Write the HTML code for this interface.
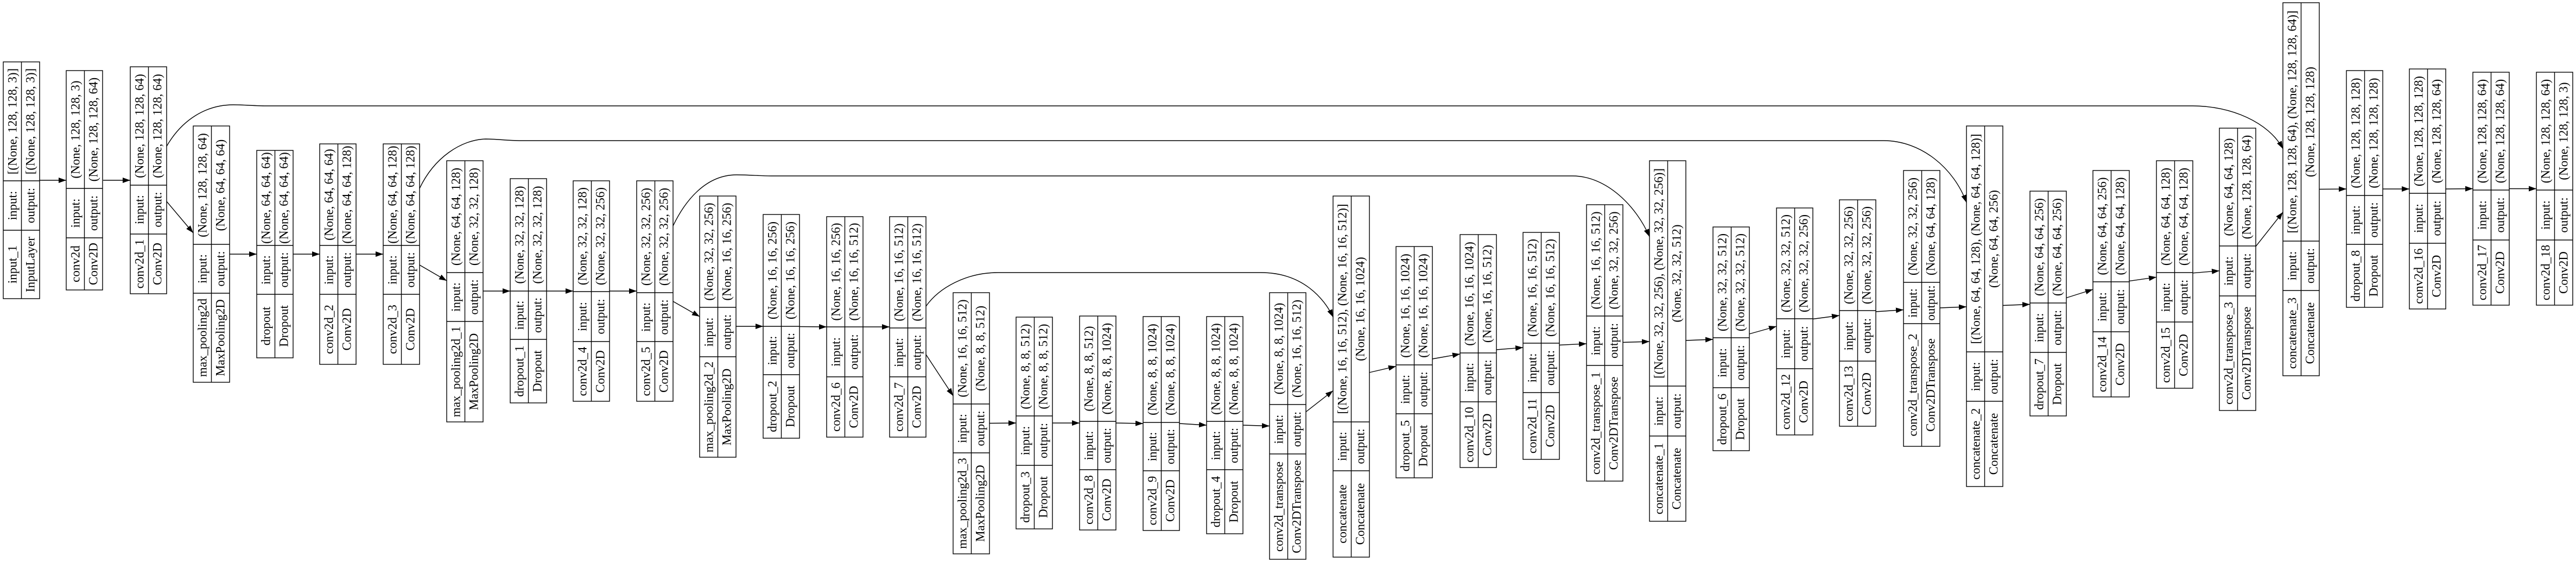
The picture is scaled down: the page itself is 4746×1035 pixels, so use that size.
<!DOCTYPE html>
<html><head><meta charset="utf-8">
<style>
html,body{margin:0;padding:0;background:#fff;}
svg{display:block;}
.n rect{fill:#fff;stroke:#000;stroke-width:1.4;}
.n path{fill:none;stroke:#000;stroke-width:1.4;}
text{font-family:"Liberation Serif",serif;font-size:23px;fill:#000;text-anchor:middle;dominant-baseline:central;}
.e{fill:none;stroke:#000;stroke-width:1.4;}
</style></head><body>
<svg width="4746" height="1035" viewBox="0 0 4746 1035" xmlns="http://www.w3.org/2000/svg">
<defs><marker id="a" markerWidth="14" markerHeight="10" refX="14" refY="5" orient="auto" markerUnits="userSpaceOnUse"><path d="M0,0 L14,5 L0,10z" fill="#000"/></marker></defs>

<!-- skip edges -->
<path class="e" marker-end="url(#a)" d="M306,271 C335,220 380,193 430,193 C450,193 470,195 490,195 L4040,195 C4110,195 4180,225 4206,274"/>
<path class="e" marker-end="url(#a)" d="M773,347 C800,290 850,257 895,256 C915,256 935,259 960,259 L3470,259 C3540,259 3600,310 3623,373"/>
<path class="e" marker-end="url(#a)" d="M1240,416 C1262,370 1300,322 1357,322 C1380,322 1400,324 1420,324 L2897,324 C2960,324 3015,380 3039,436"/>
<path class="e" marker-end="url(#a)" d="M1706,564 C1730,530 1780,502 1839,502 L2323,502 C2400,502 2440,550 2456,584"/>

<!-- chain edges -->
<g class="e" marker-end="url(#a)">
<line class="e" marker-end="url(#a)" x1="73" y1="332" x2="122" y2="332"/>
<line class="e" marker-end="url(#a)" x1="190" y1="332" x2="240" y2="332"/>
<line class="e" marker-end="url(#a)" x1="307" y1="371" x2="356" y2="429"/>
<line class="e" marker-end="url(#a)" x1="423" y1="468" x2="473" y2="468"/>
<line class="e" marker-end="url(#a)" x1="540" y1="468" x2="589" y2="468"/>
<line class="e" marker-end="url(#a)" x1="656" y1="468" x2="706" y2="468"/>
<line class="e" marker-end="url(#a)" x1="773" y1="488" x2="823" y2="517"/>
<line class="e" marker-end="url(#a)" x1="890" y1="536" x2="940" y2="536"/>
<line class="e" marker-end="url(#a)" x1="1007" y1="536" x2="1056" y2="536"/>
<line class="e" marker-end="url(#a)" x1="1123" y1="536" x2="1173" y2="536"/>
<line class="e" marker-end="url(#a)" x1="1240" y1="555" x2="1289" y2="583"/>
<line class="e" marker-end="url(#a)" x1="1356" y1="601" x2="1406" y2="601"/>
<line class="e" marker-end="url(#a)" x1="1473" y1="601.5" x2="1523" y2="602"/>
<line class="e" marker-end="url(#a)" x1="1590" y1="602" x2="1639" y2="602"/>
<line class="e" marker-end="url(#a)" x1="1706" y1="653" x2="1756" y2="729"/>
<line class="e" marker-end="url(#a)" x1="1823" y1="779.5" x2="1872" y2="779"/>
<line class="e" marker-end="url(#a)" x1="1939" y1="779" x2="1989" y2="779"/>
<line class="e" marker-end="url(#a)" x1="2056" y1="779" x2="2106" y2="780"/>
<line class="e" marker-end="url(#a)" x1="2173" y1="780" x2="2223" y2="783"/>
<line class="e" marker-end="url(#a)" x1="2290" y1="783" x2="2339" y2="784.5"/>
<line class="e" marker-end="url(#a)" x1="2406" y1="758.5" x2="2456" y2="719.5"/>
<line class="e" marker-end="url(#a)" x1="2523" y1="686" x2="2572" y2="674.6"/>
<line class="e" marker-end="url(#a)" x1="2639" y1="661" x2="2690" y2="652"/>
<line class="e" marker-end="url(#a)" x1="2757" y1="644" x2="2806" y2="640"/>
<line class="e" marker-end="url(#a)" x1="2873" y1="635.5" x2="2923" y2="633"/>
<line class="e" marker-end="url(#a)" x1="2990" y1="630.5" x2="3039" y2="629"/>
<line class="e" marker-end="url(#a)" x1="3106" y1="627" x2="3156" y2="625"/>
<line class="e" marker-end="url(#a)" x1="3223" y1="615" x2="3273" y2="601"/>
<line class="e" marker-end="url(#a)" x1="3340" y1="587.5" x2="3389" y2="581"/>
<line class="e" marker-end="url(#a)" x1="3456" y1="574" x2="3507" y2="570.5"/>
<line class="e" marker-end="url(#a)" x1="3574" y1="567" x2="3623" y2="565"/>
<line class="e" marker-end="url(#a)" x1="3690" y1="562.5" x2="3740" y2="560.5"/>
<line class="e" marker-end="url(#a)" x1="3807" y1="548.5" x2="3856" y2="533"/>
<line class="e" marker-end="url(#a)" x1="3923" y1="517.6" x2="3973" y2="510.4"/>
<line class="e" marker-end="url(#a)" x1="4040" y1="502.8" x2="4089" y2="498.7"/>
<line class="e" marker-end="url(#a)" x1="4156" y1="453.8" x2="4206" y2="390.7"/>
<line class="e" marker-end="url(#a)" x1="4273" y1="348.5" x2="4323" y2="348"/>
<line class="e" marker-end="url(#a)" x1="4390" y1="348" x2="4439" y2="348"/>
<line class="e" marker-end="url(#a)" x1="4506" y1="348" x2="4556" y2="347.5"/>
<line class="e" marker-end="url(#a)" x1="4623" y1="347.5" x2="4673" y2="347.5"/>
</g>

<!-- nodes -->
<g class="n" transform="translate(6,0)"><rect x="0" y="114" width="67" height="436"/><path d="M33.5,114V550M0,333H67M0,424H67"/>
<text transform="translate(17,223.5) rotate(-90)">[(None, 128, 128, 3)]</text><text transform="translate(50,223.5) rotate(-90)">[(None, 128, 128, 3)]</text>
<text transform="translate(17,378.5) rotate(-90)">input:</text><text transform="translate(50,378.5) rotate(-90)">output:</text>
<text transform="translate(17,487) rotate(-90)">input_1</text><text transform="translate(50,487) rotate(-90)">InputLayer</text></g>

<g class="n" transform="translate(122,0)"><rect x="0" y="130" width="67" height="404"/><path d="M33.5,130V534M0,347H67M0,438H67"/>
<text transform="translate(17,238.5) rotate(-90)">(None, 128, 128, 3)</text><text transform="translate(50,238.5) rotate(-90)">(None, 128, 128, 64)</text>
<text transform="translate(17,392.5) rotate(-90)">input:</text><text transform="translate(50,392.5) rotate(-90)">output:</text>
<text transform="translate(17,486) rotate(-90)">conv2d</text><text transform="translate(50,486) rotate(-90)">Conv2D</text></g>

<g class="n" transform="translate(240,0)"><rect x="0" y="123" width="67" height="418"/><path d="M33.5,123V541M0,341H67M0,431H67"/>
<text transform="translate(17,232) rotate(-90)">(None, 128, 128, 64)</text><text transform="translate(50,232) rotate(-90)">(None, 128, 128, 64)</text>
<text transform="translate(17,386) rotate(-90)">input:</text><text transform="translate(50,386) rotate(-90)">output:</text>
<text transform="translate(17,486) rotate(-90)">conv2d_1</text><text transform="translate(50,486) rotate(-90)">Conv2D</text></g>

<g class="n" transform="translate(356,0)"><rect x="0" y="232" width="67" height="472"/><path d="M33.5,232V704M0,450H67M0,540H67"/>
<text transform="translate(17,341) rotate(-90)">(None, 128, 128, 64)</text><text transform="translate(50,341) rotate(-90)">(None, 64, 64, 64)</text>
<text transform="translate(17,495) rotate(-90)">input:</text><text transform="translate(50,495) rotate(-90)">output:</text>
<text transform="translate(17,622) rotate(-90)">max_pooling2d</text><text transform="translate(50,622) rotate(-90)">MaxPooling2D</text></g>

<g class="n" transform="translate(473,0)"><rect x="0" y="277" width="67" height="382"/><path d="M33.5,277V659M0,452H67M0,542H67"/>
<text transform="translate(17,364.5) rotate(-90)">(None, 64, 64, 64)</text><text transform="translate(50,364.5) rotate(-90)">(None, 64, 64, 64)</text>
<text transform="translate(17,497) rotate(-90)">input:</text><text transform="translate(50,497) rotate(-90)">output:</text>
<text transform="translate(17,600.5) rotate(-90)">dropout</text><text transform="translate(50,600.5) rotate(-90)">Dropout</text></g>

<g class="n" transform="translate(589,0)"><rect x="0" y="265" width="67" height="406"/><path d="M33.5,265V671M0,452H67M0,542H67"/>
<text transform="translate(17,358.5) rotate(-90)">(None, 64, 64, 64)</text><text transform="translate(50,358.5) rotate(-90)">(None, 64, 64, 128)</text>
<text transform="translate(17,497) rotate(-90)">input:</text><text transform="translate(50,497) rotate(-90)">output:</text>
<text transform="translate(17,606.5) rotate(-90)">conv2d_2</text><text transform="translate(50,606.5) rotate(-90)">Conv2D</text></g>

<g class="n" transform="translate(706,0)"><rect x="0" y="265" width="67" height="406"/><path d="M33.5,265V671M0,452H67M0,542H67"/>
<text transform="translate(17,358.5) rotate(-90)">(None, 64, 64, 128)</text><text transform="translate(50,358.5) rotate(-90)">(None, 64, 64, 128)</text>
<text transform="translate(17,497) rotate(-90)">input:</text><text transform="translate(50,497) rotate(-90)">output:</text>
<text transform="translate(17,606.5) rotate(-90)">conv2d_3</text><text transform="translate(50,606.5) rotate(-90)">Conv2D</text></g>

<g class="n" transform="translate(823,0)"><rect x="0" y="296" width="67" height="481"/><path d="M33.5,296V777M0,502H67M0,592H67"/>
<text transform="translate(17,399) rotate(-90)">(None, 64, 64, 128)</text><text transform="translate(50,399) rotate(-90)">(None, 32, 32, 128)</text>
<text transform="translate(17,547) rotate(-90)">input:</text><text transform="translate(50,547) rotate(-90)">output:</text>
<text transform="translate(17,684.5) rotate(-90)">max_pooling2d_1</text><text transform="translate(50,684.5) rotate(-90)">MaxPooling2D</text></g>

<g class="n" transform="translate(940,0)"><rect x="0" y="329" width="67" height="413"/><path d="M33.5,329V742M0,536H67M0,625H67"/>
<text transform="translate(17,432.5) rotate(-90)">(None, 32, 32, 128)</text><text transform="translate(50,432.5) rotate(-90)">(None, 32, 32, 128)</text>
<text transform="translate(17,580.5) rotate(-90)">input:</text><text transform="translate(50,580.5) rotate(-90)">output:</text>
<text transform="translate(17,683.5) rotate(-90)">dropout_1</text><text transform="translate(50,683.5) rotate(-90)">Dropout</text></g>

<g class="n" transform="translate(1056,0)"><rect x="0" y="333" width="67" height="406"/><path d="M33.5,333V739M0,537H67M0,629H67"/>
<text transform="translate(17,435) rotate(-90)">(None, 32, 32, 128)</text><text transform="translate(50,435) rotate(-90)">(None, 32, 32, 256)</text>
<text transform="translate(17,583) rotate(-90)">input:</text><text transform="translate(50,583) rotate(-90)">output:</text>
<text transform="translate(17,684) rotate(-90)">conv2d_4</text><text transform="translate(50,684) rotate(-90)">Conv2D</text></g>

<g class="n" transform="translate(1173,0)"><rect x="0" y="333" width="67" height="406"/><path d="M33.5,333V739M0,539H67M0,629H67"/>
<text transform="translate(17,436) rotate(-90)">(None, 32, 32, 256)</text><text transform="translate(50,436) rotate(-90)">(None, 32, 32, 256)</text>
<text transform="translate(17,584) rotate(-90)">input:</text><text transform="translate(50,584) rotate(-90)">output:</text>
<text transform="translate(17,684) rotate(-90)">conv2d_5</text><text transform="translate(50,684) rotate(-90)">Conv2D</text></g>

<g class="n" transform="translate(1289,0)"><rect x="0" y="361" width="67" height="481"/><path d="M33.5,361V842M0,566H67M0,657H67"/>
<text transform="translate(17,463.5) rotate(-90)">(None, 32, 32, 256)</text><text transform="translate(50,463.5) rotate(-90)">(None, 16, 16, 256)</text>
<text transform="translate(17,611.5) rotate(-90)">input:</text><text transform="translate(50,611.5) rotate(-90)">output:</text>
<text transform="translate(17,749.5) rotate(-90)">max_pooling2d_2</text><text transform="translate(50,749.5) rotate(-90)">MaxPooling2D</text></g>

<g class="n" transform="translate(1406,0)"><rect x="0" y="395" width="67" height="412"/><path d="M33.5,395V807M0,601H67M0,690H67"/>
<text transform="translate(17,498) rotate(-90)">(None, 16, 16, 256)</text><text transform="translate(50,498) rotate(-90)">(None, 16, 16, 256)</text>
<text transform="translate(17,645.5) rotate(-90)">input:</text><text transform="translate(50,645.5) rotate(-90)">output:</text>
<text transform="translate(17,748.5) rotate(-90)">dropout_2</text><text transform="translate(50,748.5) rotate(-90)">Dropout</text></g>

<g class="n" transform="translate(1523,0)"><rect x="0" y="399" width="67" height="406"/><path d="M33.5,399V805M0,602H67M0,694H67"/>
<text transform="translate(17,500.5) rotate(-90)">(None, 16, 16, 256)</text><text transform="translate(50,500.5) rotate(-90)">(None, 16, 16, 512)</text>
<text transform="translate(17,648) rotate(-90)">input:</text><text transform="translate(50,648) rotate(-90)">output:</text>
<text transform="translate(17,749.5) rotate(-90)">conv2d_6</text><text transform="translate(50,749.5) rotate(-90)">Conv2D</text></g>

<g class="n" transform="translate(1639,0)"><rect x="0" y="399" width="67" height="406"/><path d="M33.5,399V805M0,604H67M0,694H67"/>
<text transform="translate(17,501.5) rotate(-90)">(None, 16, 16, 512)</text><text transform="translate(50,501.5) rotate(-90)">(None, 16, 16, 512)</text>
<text transform="translate(17,649) rotate(-90)">input:</text><text transform="translate(50,649) rotate(-90)">output:</text>
<text transform="translate(17,749.5) rotate(-90)">conv2d_7</text><text transform="translate(50,749.5) rotate(-90)">Conv2D</text></g>

<g class="n" transform="translate(1756,0)"><rect x="0" y="539" width="67" height="481"/><path d="M33.5,539V1020M0,744H67M0,834H67"/>
<text transform="translate(17,641.5) rotate(-90)">(None, 16, 16, 512)</text><text transform="translate(50,641.5) rotate(-90)">(None, 8, 8, 512)</text>
<text transform="translate(17,789) rotate(-90)">input:</text><text transform="translate(50,789) rotate(-90)">output:</text>
<text transform="translate(17,927) rotate(-90)">max_pooling2d_3</text><text transform="translate(50,927) rotate(-90)">MaxPooling2D</text></g>

<g class="n" transform="translate(1872,0)"><rect x="0" y="584" width="67" height="390"/><path d="M33.5,584V974M0,766H67M0,857H67"/>
<text transform="translate(17,675) rotate(-90)">(None, 8, 8, 512)</text><text transform="translate(50,675) rotate(-90)">(None, 8, 8, 512)</text>
<text transform="translate(17,811.5) rotate(-90)">input:</text><text transform="translate(50,811.5) rotate(-90)">output:</text>
<text transform="translate(17,915.5) rotate(-90)">dropout_3</text><text transform="translate(50,915.5) rotate(-90)">Dropout</text></g>

<g class="n" transform="translate(1989,0)"><rect x="0" y="582" width="67" height="394"/><path d="M33.5,582V976M0,776H67M0,865H67"/>
<text transform="translate(17,679) rotate(-90)">(None, 8, 8, 512)</text><text transform="translate(50,679) rotate(-90)">(None, 8, 8, 1024)</text>
<text transform="translate(17,820.5) rotate(-90)">input:</text><text transform="translate(50,820.5) rotate(-90)">output:</text>
<text transform="translate(17,920.5) rotate(-90)">conv2d_8</text><text transform="translate(50,920.5) rotate(-90)">Conv2D</text></g>

<g class="n" transform="translate(2106,0)"><rect x="0" y="583" width="67" height="394"/><path d="M33.5,583V977M0,778H67M0,867H67"/>
<text transform="translate(17,680.5) rotate(-90)">(None, 8, 8, 1024)</text><text transform="translate(50,680.5) rotate(-90)">(None, 8, 8, 1024)</text>
<text transform="translate(17,822.5) rotate(-90)">input:</text><text transform="translate(50,822.5) rotate(-90)">output:</text>
<text transform="translate(17,922) rotate(-90)">conv2d_9</text><text transform="translate(50,922) rotate(-90)">Conv2D</text></g>

<g class="n" transform="translate(2223,0)"><rect x="0" y="583" width="67" height="400"/><path d="M33.5,583V983M0,776H67M0,865H67"/>
<text transform="translate(17,679.5) rotate(-90)">(None, 8, 8, 1024)</text><text transform="translate(50,679.5) rotate(-90)">(None, 8, 8, 1024)</text>
<text transform="translate(17,820.5) rotate(-90)">input:</text><text transform="translate(50,820.5) rotate(-90)">output:</text>
<text transform="translate(17,924) rotate(-90)">dropout_4</text><text transform="translate(50,924) rotate(-90)">Dropout</text></g>

<g class="n" transform="translate(2339,0)"><rect x="0" y="539" width="67" height="491"/><path d="M33.5,539V1030M0,745H67M0,836H67"/>
<text transform="translate(17,642) rotate(-90)">(None, 8, 8, 1024)</text><text transform="translate(50,642) rotate(-90)">(None, 16, 16, 512)</text>
<text transform="translate(17,790.5) rotate(-90)">input:</text><text transform="translate(50,790.5) rotate(-90)">output:</text>
<text transform="translate(17,933) rotate(-90)">conv2d_transpose</text><text transform="translate(50,933) rotate(-90)">Conv2DTranspose</text></g>

<g class="n" transform="translate(2456,0)"><rect x="0" y="361" width="67" height="665"/><path d="M33.5,361V1026M0,777H67M0,867H67"/>
<text transform="translate(17,569) rotate(-90)">[(None, 16, 16, 512), (None, 16, 16, 512)]</text><text transform="translate(50,569) rotate(-90)">(None, 16, 16, 1024)</text>
<text transform="translate(17,822) rotate(-90)">input:</text><text transform="translate(50,822) rotate(-90)">output:</text>
<text transform="translate(17,946.5) rotate(-90)">concatenate</text><text transform="translate(50,946.5) rotate(-90)">Concatenate</text></g>

<g class="n" transform="translate(2572,0)"><rect x="0" y="454" width="67" height="426"/><path d="M33.5,454V880M0,672H67M0,762H67"/>
<text transform="translate(17,563) rotate(-90)">(None, 16, 16, 1024)</text><text transform="translate(50,563) rotate(-90)">(None, 16, 16, 1024)</text>
<text transform="translate(17,717) rotate(-90)">input:</text><text transform="translate(50,717) rotate(-90)">output:</text>
<text transform="translate(17,821) rotate(-90)">dropout_5</text><text transform="translate(50,821) rotate(-90)">Dropout</text></g>

<g class="n" transform="translate(2690,0)"><rect x="0" y="432" width="67" height="429"/><path d="M33.5,432V861M0,650H67M0,740H67"/>
<text transform="translate(17,541) rotate(-90)">(None, 16, 16, 1024)</text><text transform="translate(50,541) rotate(-90)">(None, 16, 16, 512)</text>
<text transform="translate(17,695) rotate(-90)">input:</text><text transform="translate(50,695) rotate(-90)">output:</text>
<text transform="translate(17,800.5) rotate(-90)">conv2d_10</text><text transform="translate(50,800.5) rotate(-90)">Conv2D</text></g>

<g class="n" transform="translate(2806,0)"><rect x="0" y="428" width="67" height="418"/><path d="M33.5,428V846M0,632H67M0,723H67"/>
<text transform="translate(17,530) rotate(-90)">(None, 16, 16, 512)</text><text transform="translate(50,530) rotate(-90)">(None, 16, 16, 512)</text>
<text transform="translate(17,677.5) rotate(-90)">input:</text><text transform="translate(50,677.5) rotate(-90)">output:</text>
<text transform="translate(17,784.5) rotate(-90)">conv2d_11</text><text transform="translate(50,784.5) rotate(-90)">Conv2D</text></g>

<g class="n" transform="translate(2923,0)"><rect x="0" y="377" width="67" height="509"/><path d="M33.5,377V886M0,582H67M0,673H67"/>
<text transform="translate(17,479.5) rotate(-90)">(None, 16, 16, 512)</text><text transform="translate(50,479.5) rotate(-90)">(None, 32, 32, 256)</text>
<text transform="translate(17,627.5) rotate(-90)">input:</text><text transform="translate(50,627.5) rotate(-90)">output:</text>
<text transform="translate(17,779.5) rotate(-90)">conv2d_transpose_1</text><text transform="translate(50,779.5) rotate(-90)">Conv2DTranspose</text></g>

<g class="n" transform="translate(3039,0)"><rect x="0" y="296" width="67" height="664"/><path d="M33.5,296V960M0,711H67M0,803H67"/>
<text transform="translate(17,503.5) rotate(-90)">[(None, 32, 32, 256), (None, 32, 32, 256)]</text><text transform="translate(50,503.5) rotate(-90)">(None, 32, 32, 512)</text>
<text transform="translate(17,757) rotate(-90)">input:</text><text transform="translate(50,757) rotate(-90)">output:</text>
<text transform="translate(17,881.5) rotate(-90)">concatenate_1</text><text transform="translate(50,881.5) rotate(-90)">Concatenate</text></g>

<g class="n" transform="translate(3156,0)"><rect x="0" y="418" width="67" height="412"/><path d="M33.5,418V830M0,622H67M0,714H67"/>
<text transform="translate(17,520) rotate(-90)">(None, 32, 32, 512)</text><text transform="translate(50,520) rotate(-90)">(None, 32, 32, 512)</text>
<text transform="translate(17,668) rotate(-90)">input:</text><text transform="translate(50,668) rotate(-90)">output:</text>
<text transform="translate(17,772) rotate(-90)">dropout_6</text><text transform="translate(50,772) rotate(-90)">Dropout</text></g>

<g class="n" transform="translate(3273,0)"><rect x="0" y="383" width="67" height="418"/><path d="M33.5,383V801M0,587H67M0,679H67"/>
<text transform="translate(17,485) rotate(-90)">(None, 32, 32, 512)</text><text transform="translate(50,485) rotate(-90)">(None, 32, 32, 256)</text>
<text transform="translate(17,633) rotate(-90)">input:</text><text transform="translate(50,633) rotate(-90)">output:</text>
<text transform="translate(17,740) rotate(-90)">conv2d_12</text><text transform="translate(50,740) rotate(-90)">Conv2D</text></g>

<g class="n" transform="translate(3389,0)"><rect x="0" y="368" width="67" height="417"/><path d="M33.5,368V785M0,572H67M0,665H67"/>
<text transform="translate(17,470) rotate(-90)">(None, 32, 32, 256)</text><text transform="translate(50,470) rotate(-90)">(None, 32, 32, 256)</text>
<text transform="translate(17,618.5) rotate(-90)">input:</text><text transform="translate(50,618.5) rotate(-90)">output:</text>
<text transform="translate(17,725) rotate(-90)">conv2d_13</text><text transform="translate(50,725) rotate(-90)">Conv2D</text></g>

<g class="n" transform="translate(3507,0)"><rect x="0" y="314" width="67" height="508"/><path d="M33.5,314V822M0,520H67M0,596H67"/>
<text transform="translate(17,417) rotate(-90)">(None, 32, 32, 256)</text><text transform="translate(50,417) rotate(-90)">(None, 64, 64, 128)</text>
<text transform="translate(17,558) rotate(-90)">input:</text><text transform="translate(50,558) rotate(-90)">output:</text>
<text transform="translate(17,709) rotate(-90)">conv2d_transpose_2</text><text transform="translate(50,709) rotate(-90)">Conv2DTranspose</text></g>

<g class="n" transform="translate(3623,0)"><rect x="0" y="232" width="67" height="664"/><path d="M33.5,232V896M0,648H67M0,739H67"/>
<text transform="translate(17,440) rotate(-90)">[(None, 64, 64, 128), (None, 64, 64, 128)]</text><text transform="translate(50,440) rotate(-90)">(None, 64, 64, 256)</text>
<text transform="translate(17,693.5) rotate(-90)">input:</text><text transform="translate(50,693.5) rotate(-90)">output:</text>
<text transform="translate(17,817.5) rotate(-90)">concatenate_2</text><text transform="translate(50,817.5) rotate(-90)">Concatenate</text></g>

<g class="n" transform="translate(3740,0)"><rect x="0" y="352" width="67" height="414"/><path d="M33.5,352V766M0,558H67M0,649H67"/>
<text transform="translate(17,455) rotate(-90)">(None, 64, 64, 256)</text><text transform="translate(50,455) rotate(-90)">(None, 64, 64, 256)</text>
<text transform="translate(17,603.5) rotate(-90)">input:</text><text transform="translate(50,603.5) rotate(-90)">output:</text>
<text transform="translate(17,707.5) rotate(-90)">dropout_7</text><text transform="translate(50,707.5) rotate(-90)">Dropout</text></g>

<g class="n" transform="translate(3856,0)"><rect x="0" y="314" width="67" height="417"/><path d="M33.5,314V731M0,519H67M0,611H67"/>
<text transform="translate(17,416.5) rotate(-90)">(None, 64, 64, 256)</text><text transform="translate(50,416.5) rotate(-90)">(None, 64, 64, 128)</text>
<text transform="translate(17,565) rotate(-90)">input:</text><text transform="translate(50,565) rotate(-90)">output:</text>
<text transform="translate(17,671) rotate(-90)">conv2d_14</text><text transform="translate(50,671) rotate(-90)">Conv2D</text></g>

<g class="n" transform="translate(3973,0)"><rect x="0" y="296" width="67" height="419"/><path d="M33.5,296V715M0,502H67M0,593H67"/>
<text transform="translate(17,399) rotate(-90)">(None, 64, 64, 128)</text><text transform="translate(50,399) rotate(-90)">(None, 64, 64, 128)</text>
<text transform="translate(17,547.5) rotate(-90)">input:</text><text transform="translate(50,547.5) rotate(-90)">output:</text>
<text transform="translate(17,654) rotate(-90)">conv2d_15</text><text transform="translate(50,654) rotate(-90)">Conv2D</text></g>

<g class="n" transform="translate(4089,0)"><rect x="0" y="236" width="67" height="520"/><path d="M33.5,236V756M0,453H67M0,545H67"/>
<text transform="translate(17,344.5) rotate(-90)">(None, 64, 64, 128)</text><text transform="translate(50,344.5) rotate(-90)">(None, 128, 128, 64)</text>
<text transform="translate(17,499) rotate(-90)">input:</text><text transform="translate(50,499) rotate(-90)">output:</text>
<text transform="translate(17,650.5) rotate(-90)">conv2d_transpose_3</text><text transform="translate(50,650.5) rotate(-90)">Conv2DTranspose</text></g>

<g class="n" transform="translate(4206,0)"><rect x="0" y="5" width="67" height="687"/><path d="M33.5,5V692M0,444H67M0,535H67"/>
<text transform="translate(17,224.5) rotate(-90)">[(None, 128, 128, 64), (None, 128, 128, 64)]</text><text transform="translate(50,224.5) rotate(-90)">(None, 128, 128, 128)</text>
<text transform="translate(17,489.5) rotate(-90)">input:</text><text transform="translate(50,489.5) rotate(-90)">output:</text>
<text transform="translate(17,613.5) rotate(-90)">concatenate_3</text><text transform="translate(50,613.5) rotate(-90)">Concatenate</text></g>

<g class="n" transform="translate(4323,0)"><rect x="0" y="130" width="67" height="436"/><path d="M33.5,130V566M0,360H67M0,450H67"/>
<text transform="translate(17,245) rotate(-90)">(None, 128, 128, 128)</text><text transform="translate(50,245) rotate(-90)">(None, 128, 128, 128)</text>
<text transform="translate(17,405) rotate(-90)">input:</text><text transform="translate(50,405) rotate(-90)">output:</text>
<text transform="translate(17,508) rotate(-90)">dropout_8</text><text transform="translate(50,508) rotate(-90)">Dropout</text></g>

<g class="n" transform="translate(4439,0)"><rect x="0" y="127" width="67" height="442"/><path d="M33.5,127V569M0,356H67M0,448H67"/>
<text transform="translate(17,241.5) rotate(-90)">(None, 128, 128, 128)</text><text transform="translate(50,241.5) rotate(-90)">(None, 128, 128, 64)</text>
<text transform="translate(17,402) rotate(-90)">input:</text><text transform="translate(50,402) rotate(-90)">output:</text>
<text transform="translate(17,508.5) rotate(-90)">conv2d_16</text><text transform="translate(50,508.5) rotate(-90)">Conv2D</text></g>

<g class="n" transform="translate(4556,0)"><rect x="0" y="133" width="67" height="429"/><path d="M33.5,133V562M0,350H67M0,442H67"/>
<text transform="translate(17,241.5) rotate(-90)">(None, 128, 128, 64)</text><text transform="translate(50,241.5) rotate(-90)">(None, 128, 128, 64)</text>
<text transform="translate(17,396) rotate(-90)">input:</text><text transform="translate(50,396) rotate(-90)">output:</text>
<text transform="translate(17,502) rotate(-90)">conv2d_17</text><text transform="translate(50,502) rotate(-90)">Conv2D</text></g>

<g class="n" transform="translate(4673,0)"><rect x="0" y="133" width="67" height="429"/><path d="M33.5,133V562M0,350H67M0,442H67"/>
<text transform="translate(17,241.5) rotate(-90)">(None, 128, 128, 64)</text><text transform="translate(50,241.5) rotate(-90)">(None, 128, 128, 3)</text>
<text transform="translate(17,396) rotate(-90)">input:</text><text transform="translate(50,396) rotate(-90)">output:</text>
<text transform="translate(17,502) rotate(-90)">conv2d_18</text><text transform="translate(50,502) rotate(-90)">Conv2D</text></g>
</svg>
</body></html>
